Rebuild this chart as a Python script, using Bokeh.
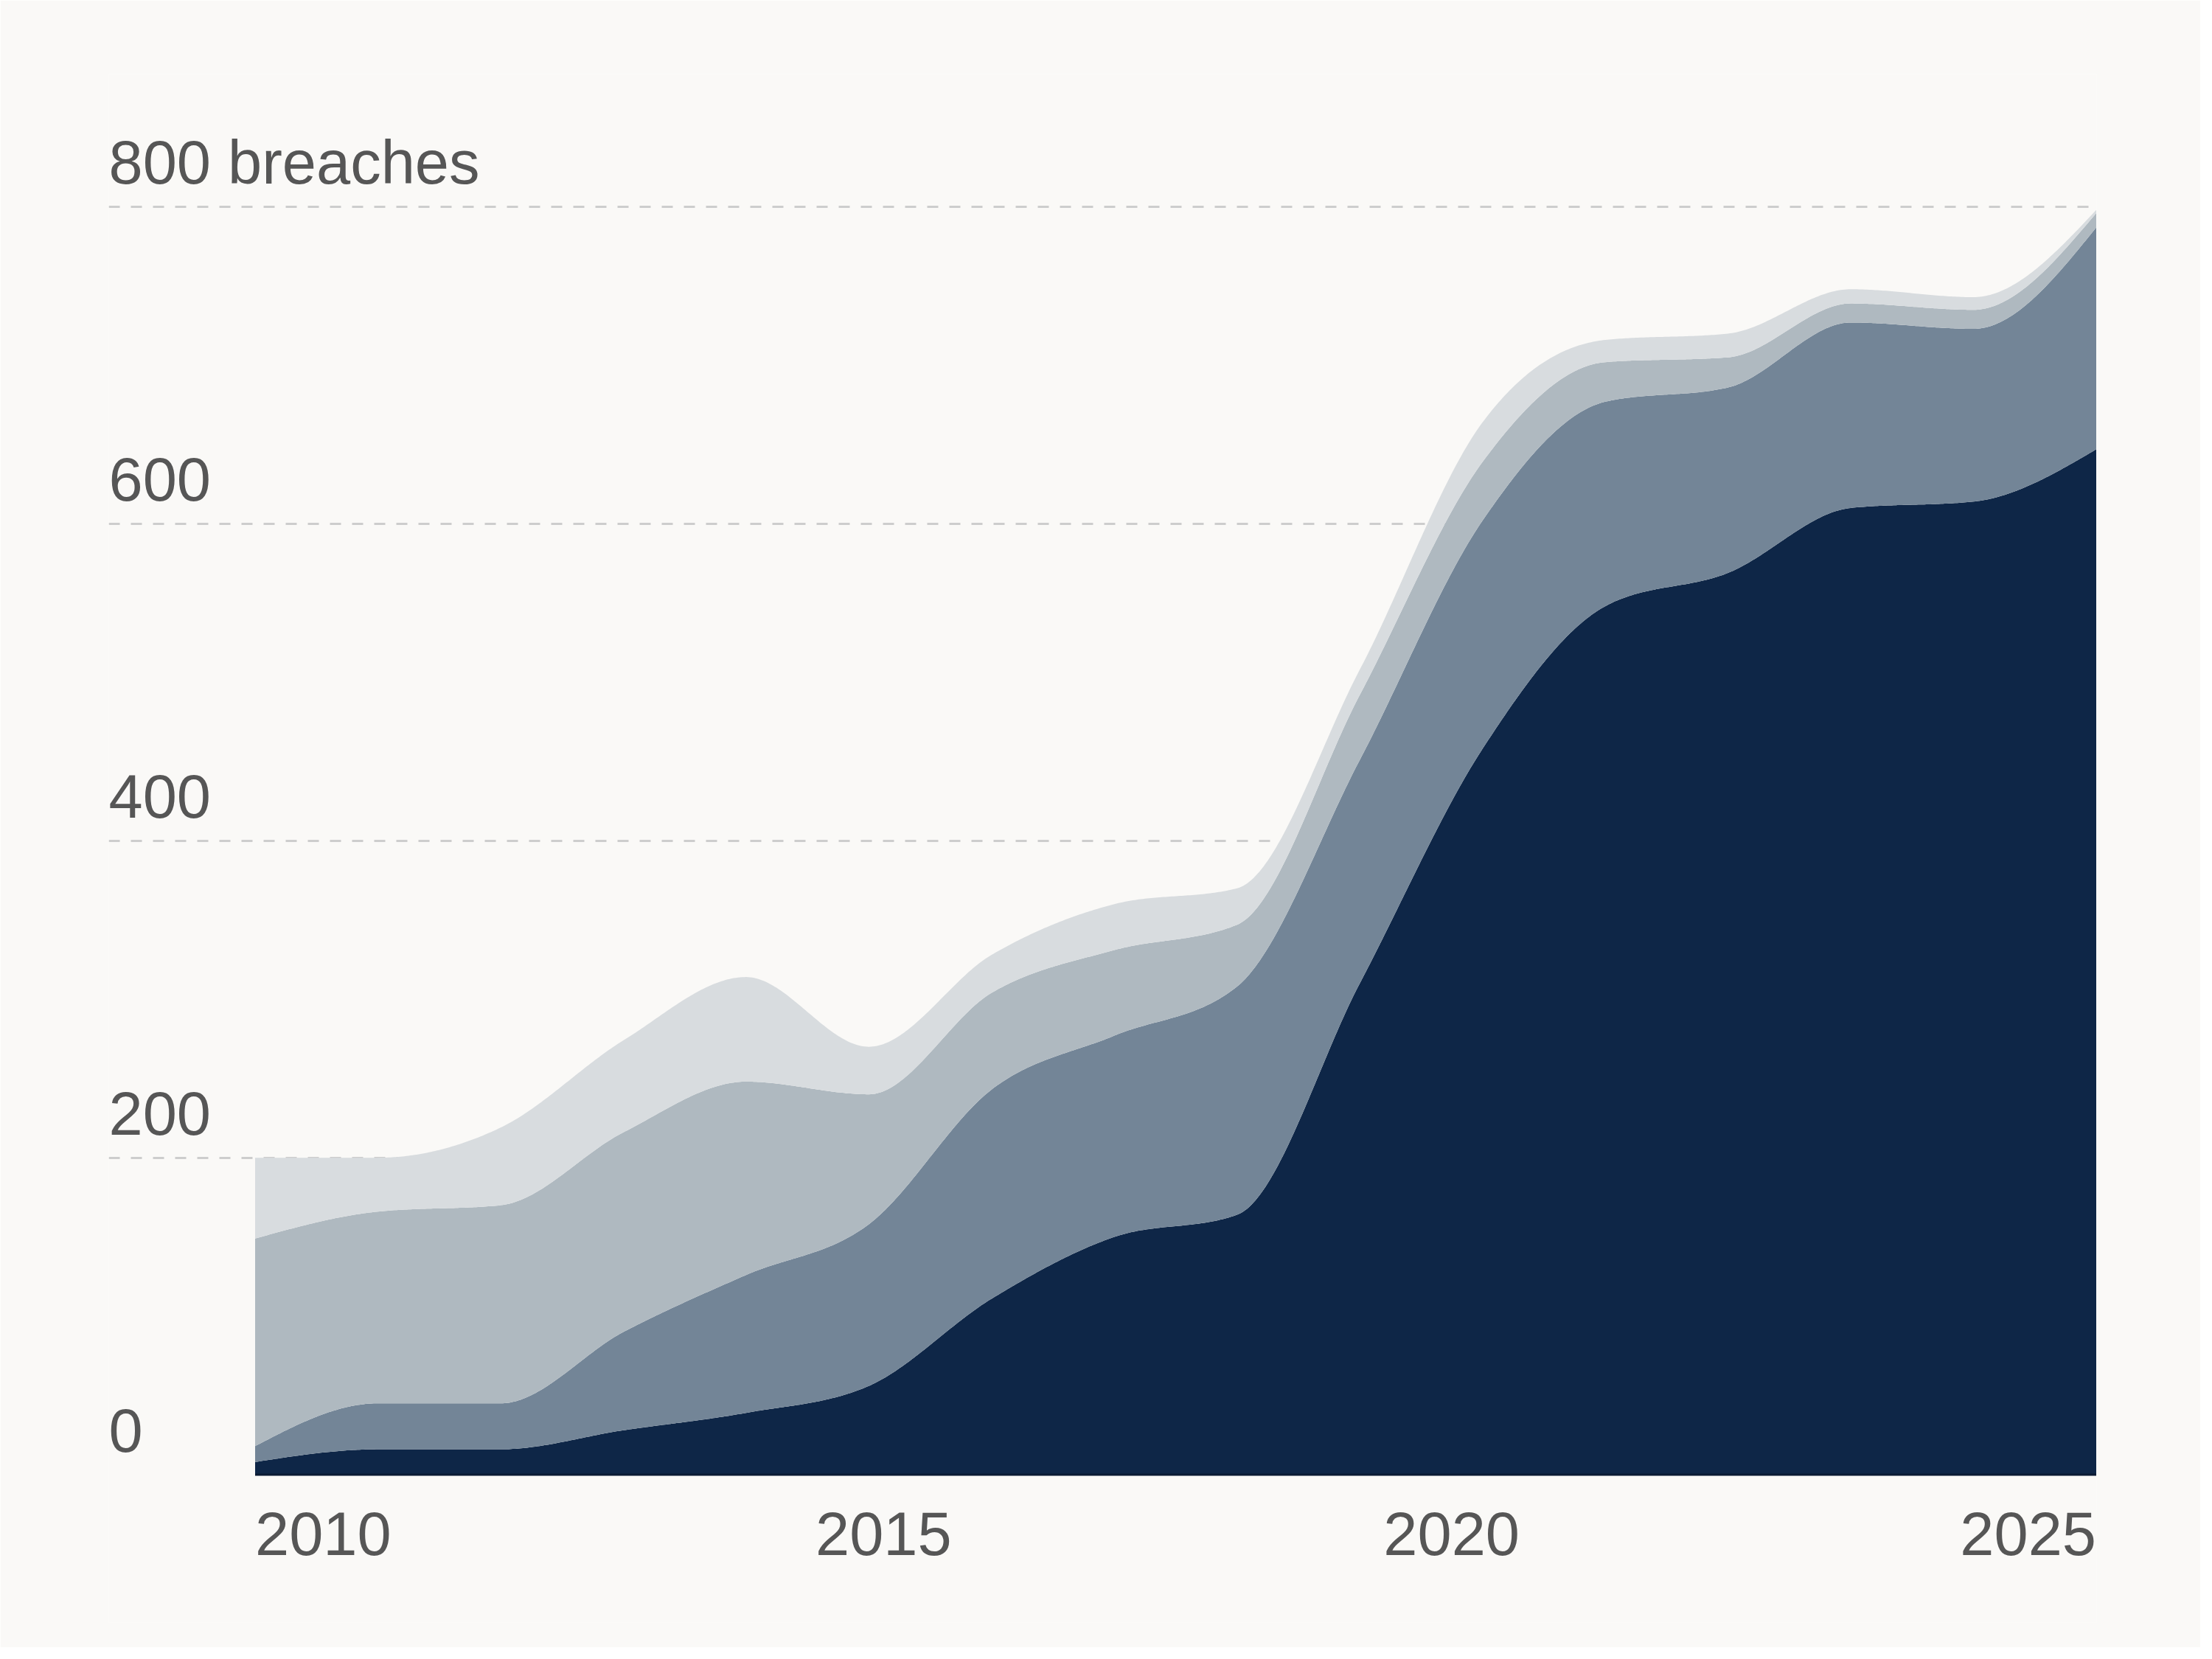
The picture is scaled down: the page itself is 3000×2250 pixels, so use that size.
import numpy as np
from bokeh.plotting import figure
from bokeh.models import Grid, FixedTicker, Range1d
from bokeh.core.properties import value
from bokeh.embed import file_html
from bokeh.resources import INLINE

# ---------------- data ----------------
years = list(range(2010, 2026))
layer_navy = [8, 16, 16, 28, 39, 56, 111, 150, 164, 310, 458, 548, 569, 610, 614, 647]
layer_slate = [10, 29, 29, 62, 87, 102, 132, 127, 144, 141, 144, 129, 117, 117, 109, 140]
layer_grey = [131, 121, 125, 126, 122, 82, 61, 54, 39, 41, 37, 25, 19, 12, 12, 9]
layer_light = [51, 34, 49, 58, 66, 30, 24, 29, 23, 16, 25, 14, 15, 9, 8, 2]

y_ticks = [0, 200, 400, 600, 800]
y_tick_labels = ["0", "200", "400", "600", "800 breaches"]
x_ticks = [2010, 2015, 2020, 2025]
x_tick_labels = ["2010", "2015", "2020", "2025"]

# ---------------- style ----------------
layer_colors = ["#0E2647", "#738597", "#AFB9C0", "#D8DCDF"]
BG = "#FAF9F7"
TEXT = "#565656"
FONT = "Liberation Sans"
FS = "83px"

# ---------------- monotone-x curve (as d3.curveMonotoneX) ----------------
def monotone_curve(xs, ys, n=60):
    xs = np.asarray(xs, float)
    ys = np.asarray(ys, float)
    h = np.diff(xs)
    s = np.diff(ys) / h
    m = np.zeros(len(xs))
    for i in range(1, len(xs) - 1):
        s0, s1 = s[i - 1], s[i]
        h0, h1 = h[i - 1], h[i]
        p = (s0 * h1 + s1 * h0) / (h0 + h1)
        sg0 = -1.0 if s0 < 0 else 1.0
        sg1 = -1.0 if s1 < 0 else 1.0
        m[i] = (sg0 + sg1) * min(abs(s0), abs(s1), 0.5 * abs(p))
    m[0] = (3 * s[0] - m[1]) / 2
    m[-1] = (3 * s[-1] - m[-2]) / 2
    out_x, out_y = [], []
    for i in range(len(xs) - 1):
        t = np.linspace(0, 1, n, endpoint=(i == len(xs) - 2))
        dx = h[i]
        h00 = 2 * t**3 - 3 * t**2 + 1
        h10 = t**3 - 2 * t**2 + t
        h01 = -2 * t**3 + 3 * t**2
        h11 = t**3 - t**2
        out_x.append(xs[i] + t * dx)
        out_y.append(h00 * ys[i] + h10 * dx * m[i] + h01 * ys[i + 1] + h11 * dx * m[i + 1])
    return np.concatenate(out_x), np.concatenate(out_y)

layers = [layer_navy, layer_slate, layer_grey, layer_light]
cum = np.cumsum(np.array(layers, float), axis=0)
bounds = [np.zeros(len(years))] + [cum[k] for k in range(len(layers))]
curves = [monotone_curve(years, b) for b in bounds]

# ---------------- figure geometry ----------------
W, H = 2984, 2234
px_per_year = 2497 / 15.0
px_per_unit = 1719.5 / 800.0
x_start = years[0] - 198.5 / px_per_year
x_end = years[-1] + 0.5 / px_per_year
y_end = 1899.5 / px_per_unit
y_start = -200.5 / px_per_unit

p = figure(
    width=W, height=H,
    x_range=Range1d(x_start, x_end), y_range=Range1d(y_start, y_end),
    output_backend="svg", toolbar_location=None,
    x_axis_location=None, y_axis_location=None,
    min_border_left=147, min_border_right=141, min_border_top=100, min_border_bottom=34,
    background_fill_color=BG, border_fill_color=BG, outline_line_color=None,
)
p.grid.visible = False

p.add_layout(Grid(dimension=1, ticker=FixedTicker(ticks=y_ticks[1:]),
                  grid_line_color="#CDCDCD", grid_line_width=3, grid_line_dash="15 15"))

for k, col in enumerate(layer_colors):
    xd, lo = curves[k]
    _, hi = curves[k + 1]
    p.varea(x=xd, y1=lo, y2=hi, fill_color=col, fill_alpha=1.0)

p.line(x=[years[0], years[-1]], y=[0, 0], line_color="#0A1A33", line_width=3)

# y tick labels: above the grid lines, left aligned
p.text(x=[x_start] * len(y_ticks), y=[t + 28 for t in y_ticks], text=y_tick_labels,
       text_font=value(FONT), text_font_size=FS, text_color=TEXT,
       text_align="left", text_baseline="alphabetic")

# x tick labels: first and last aligned to the plot edges
aligns = ["left", "center", "center", "right"]
offsets = [0, 20, -42, 0]
for xt, lab, al, off in zip(x_ticks, x_tick_labels, aligns, offsets):
    p.text(x=[xt], y=[-37], text=[lab], x_offset=off,
           text_font=value(FONT), text_font_size=FS, text_color=TEXT,
           text_align=al, text_baseline="alphabetic")

open("out.html", "w").write(file_html(p, INLINE))
